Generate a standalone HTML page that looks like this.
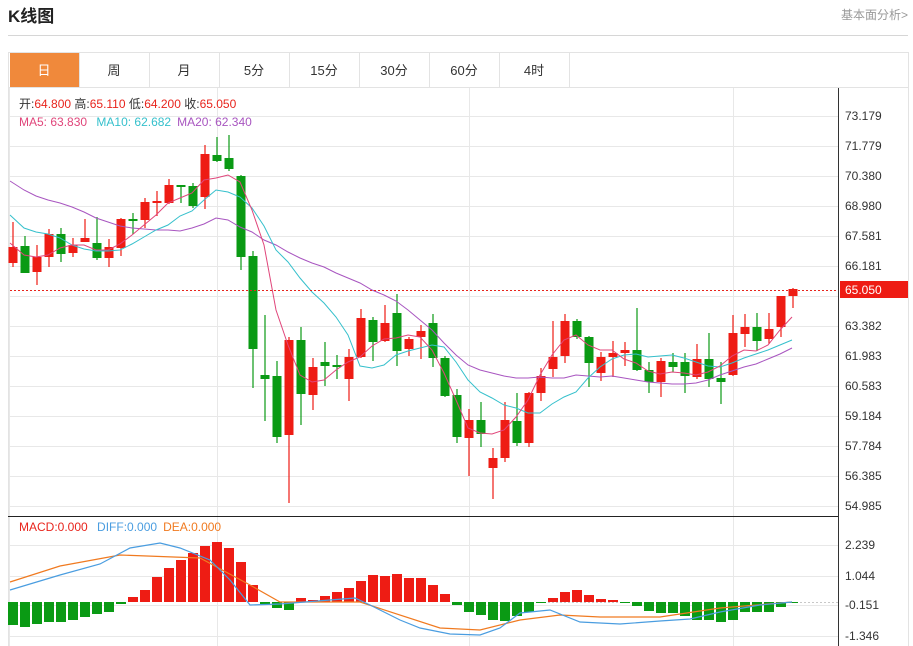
<!DOCTYPE html>
<html><head><meta charset="utf-8"><style>
body{margin:0;background:#fff;width:913px;height:646px;overflow:hidden;font-family:"Liberation Sans","Noto Sans CJK SC",sans-serif;}
</style></head><body>
<svg id="s" width="913" height="646" xmlns="http://www.w3.org/2000/svg" style="position:absolute;left:0;top:0;font-family:'Liberation Sans','Noto Sans CJK SC',sans-serif">
<text x="8" y="22" font-size="17" font-weight="bold" fill="#222">K线图</text>
<text x="908" y="19" font-size="12" fill="#999" text-anchor="end">基本面分析&gt;</text>
<line x1="8" y1="35.5" x2="908" y2="35.5" stroke="#d6d6d6"/>
<rect x="8.5" y="52.5" width="900" height="600" fill="none" stroke="#e3e3e3"/>
<line x1="8" y1="87.5" x2="908" y2="87.5" stroke="#e3e3e3"/>
<rect x="10" y="53" width="69" height="34" fill="#f0893b"/>
<g stroke="#e3e3e3"><line x1="149.5" y1="53" x2="149.5" y2="87"/><line x1="219.5" y1="53" x2="219.5" y2="87"/><line x1="289.5" y1="53" x2="289.5" y2="87"/><line x1="359.5" y1="53" x2="359.5" y2="87"/><line x1="429.5" y1="53" x2="429.5" y2="87"/><line x1="499.5" y1="53" x2="499.5" y2="87"/><line x1="569.5" y1="53" x2="569.5" y2="87"/><line x1="79.5" y1="53" x2="79.5" y2="87"/></g>
<g font-size="13" fill="#333" text-anchor="middle">
<text x="44" y="75" fill="#fff">日</text><text x="114" y="75">周</text><text x="184" y="75">月</text><text x="254" y="75">5分</text><text x="324" y="75">15分</text><text x="394" y="75">30分</text><text x="464" y="75">60分</text><text x="534" y="75">4时</text>
</g>
<g id="grid" stroke="#e8e8e8"></g>
<g id="chart"></g>
<line x1="838.5" y1="88" x2="838.5" y2="646" stroke="#333"/>
<line x1="8" y1="516.5" x2="838" y2="516.5" stroke="#222"/>
<g font-size="12" fill="#333">
<text x="845" y="120">73.179</text><text x="845" y="150">71.779</text><text x="845" y="180">70.380</text><text x="845" y="210">68.980</text><text x="845" y="240">67.581</text><text x="845" y="270">66.181</text><text x="845" y="330">63.382</text><text x="845" y="360">61.983</text><text x="845" y="390">60.583</text><text x="845" y="420">59.184</text><text x="845" y="450">57.784</text><text x="845" y="480">56.385</text><text x="845" y="510">54.985</text>
<text x="845" y="549">2.239</text><text x="845" y="580">1.044</text><text x="845" y="609">-0.151</text><text x="845" y="640">-1.346</text>
</g>
<rect x="840" y="281" width="68" height="17" fill="#ee1c14"/>
<text x="845" y="294" font-size="12" fill="#fff">65.050</text>
<g font-size="12">
<text x="19" y="108" fill="#333">开:<tspan fill="#e8241c">64.800</tspan>  高:<tspan fill="#e8241c">65.110</tspan>  低:<tspan fill="#e8241c">64.200</tspan>  收:<tspan fill="#e8241c">65.050</tspan></text>
<text x="19" y="126" fill="#e0457a">MA5: 63.830 <tspan fill="#35c0cc" dx="6">MA10: 62.682</tspan><tspan fill="#a855c0" dx="6">MA20: 62.340</tspan></text>
<text x="19" y="531" fill="#e8241c">MACD:0.000 <tspan fill="#4a9de0" dx="6">DIFF:0.000</tspan><tspan fill="#f07a20" dx="6">DEA:0.000</tspan></text>
</g>
</svg>
<script>
var NS="http://www.w3.org/2000/svg";
function el(p,t,a){var e=document.createElementNS(NS,t);for(var k in a)e.setAttribute(k,a[k]);p.appendChild(e);return e;}
var g=document.getElementById('grid'),c=document.getElementById('chart');
[116,146,176,206,236,266,296,326,356,386,416,446,476,506,545,576,605,636].forEach(function(y){el(g,'line',{x1:9,x2:838,y1:y+.5,y2:y+.5});});
[217,469,733].forEach(function(x){el(g,'line',{x1:x+.5,x2:x+.5,y1:88,y2:646});});
el(g,'line',{x1:9.5,x2:9.5,y1:88,y2:646});
// candles: color r/g, bodyTop, bodyBot, wickTop, wickBot
var C=[['r',247,263,222,267],['g',246,273,236,273],['r',257,272,245,285],['r',234,257,229,267],['g',234,254,228,262],['r',245,253,238,257],['r',238,242,219,242],['g',243,258,217,260],['r',247,258,239,267],['r',219,248,218,256],['g',219,221,213,234],['r',202,220,198,228],['r',201,203,191,216],['r',185,203,179,204],['g',185,187,185,203],['g',186,206,183,208],['r',154,197,145,209],['g',155,161,137,162],['g',158,169,135,171],['g',176,257,175,270],['g',256,349,251,388],['g',375,379,315,421],['g',376,437,361,443],['r',340,435,337,503],['g',340,394,327,425],['r',367,395,358,410],['g',362,366,342,386],['g',365,367,355,379],['r',357,379,349,401],['r',318,357,309,358],['g',320,342,317,361],['r',323,341,305,342],['g',313,351,294,366],['r',339,349,337,356],['r',331,337,325,359],['g',323,358,314,367],['g',358,396,356,397],['g',395,437,389,443],['r',420,438,409,476],['g',420,434,402,447],['r',458,468,448,499],['r',420,458,402,462],['g',421,443,393,446],['r',393,443,392,447],['r',376,393,368,401],['r',357,369,321,377],['r',321,356,314,363],['g',321,337,319,339],['g',337,363,336,387],['r',357,373,352,381],['r',353,357,341,377],['r',350,353,342,366],['g',350,370,308,371],['g',370,382,362,393],['r',361,382,358,397],['g',362,367,353,372],['g',362,376,353,393],['r',359,377,344,379],['g',359,379,333,387],['g',378,382,362,404],['r',333,375,315,376],['r',327,334,314,347],['g',327,341,313,351],['r',329,339,313,344],['r',296,327,296,337],['r',289,296,288,308]];
C.forEach(function(d,i){var x=13+i*12,col=d[0]=='r'?'#ee1c14':'#0a9a14';
el(c,'line',{x1:x,x2:x,y1:d[3],y2:d[4],stroke:col,'stroke-width':1.2});
el(c,'rect',{x:x-4.5,y:d[1],width:9,height:Math.max(2,d[2]-d[1]),fill:col});});
function pl(pts,col,w){el(c,'polyline',{points:pts,fill:'none',stroke:col,'stroke-width':w||1});}
pl("10,181 24,190 36,196 48,200 60,203 72,207 84,212 96,218 108,222 120,226 132,228 144,229 156,230 168,230 180,231 192,228 204,224 216,218 228,220 240,227 252,232 264,240 276,245 288,252 300,258 312,263 324,267 336,273 348,278 360,283 372,290 384,295 396,301 408,310 420,320 432,330 444,343 456,355 468,365 480,370 492,373 504,376 516,378 528,378 540,377 552,378 564,378 576,375 588,376 600,377 612,376 624,378 636,380 648,382 660,383 672,384 684,384 696,383 708,380 720,375 732,371 744,367 756,364 768,359 780,354 792,348","#a855c0");
pl("10,215 24,228 36,232 48,234 60,238 72,245 84,249 96,251 108,251 120,250 132,244 144,237 156,230 168,225 180,216 192,211 204,200 216,190 228,192 240,197 252,208 264,226 276,250 288,262 300,278 312,292 324,303 336,317 348,335 360,366 372,368 384,365 396,355 408,351 420,348 432,345 444,347 456,362 468,380 480,392 492,398 504,405 516,408 528,413 540,413 552,404 564,397 576,392 588,378 600,367 612,359 624,355 636,354 648,357 660,356 672,355 684,358 696,362 708,366 720,367 732,363 744,358 756,354 768,350 780,345 792,340","#35c0cc");
pl("10,243 24,255 36,257 48,255 60,248 72,245 84,245 96,250 108,250 120,244 132,235 144,225 156,215 168,203 180,198 192,193 204,180 216,178 228,175 240,182 252,210 264,245 276,310 288,345 300,375 312,382 324,380 336,370 348,362 360,357 372,346 384,339 396,338 408,335 420,337 432,350 444,373 456,400 468,428 480,433 492,434 504,430 516,417 528,400 540,375 552,355 564,340 576,335 588,345 600,350 612,350 624,359 636,363 648,371 660,374 672,372 684,373 696,375 708,372 720,366 732,356 744,350 756,351 768,345 780,330 792,317","#e0457a");
el(c,'line',{x1:10,x2:838,y1:290.5,y2:290.5,stroke:'#e8241c','stroke-dasharray':'2,2'});
el(c,'line',{x1:520,x2:838,y1:602.5,y2:602.5,stroke:'#c8c8c8','stroke-dasharray':'2,2'});
// MACD bars
var Z=602,H={0:625,1:627,2:624,3:622,4:622,5:620,6:617,7:614,8:612,9:604,10:597,11:590,12:577,13:568,14:560,15:553,16:546,17:542,18:548,19:562,20:585,21:604,22:608,23:610,24:598,25:600,26:596,27:592,28:588,29:581,30:575,31:576,32:574,33:578,34:578,35:585,36:594,37:605,38:612,39:615,40:620,41:621,42:616,43:612,44:603,45:598,46:592,47:590,48:595,49:599,50:600,51:603,52:606,53:611,54:613,55:613,56:616,57:620,58:620,59:622,60:620,61:612,62:612,63:612,64:607,65:603};
for(var i=0;i<66;i++){var y=H[i],x=13+i*12;var up=y<Z;el(c,'rect',{x:x-5,y:Math.min(y,Z),width:10,height:Math.max(1,Math.abs(y-Z)),fill:up?'#ee1c14':'#0a9a14'});}
pl("10,582 60,566 120,555 200,558 250,585 280,602 360,602 440,628 480,630 520,620 560,615 600,617 660,617 720,608 792,602","#f07a20",1.2);
pl("10,590 60,575 100,564 130,548 160,543 180,548 210,560 230,580 250,605 280,604 330,600 355,598 370,605 400,620 420,628 450,634 480,635 500,628 520,613 550,610 580,622 620,624 660,621 690,619 720,612 760,605 792,602","#4a9de0",1.2);
</script>
</body></html>
